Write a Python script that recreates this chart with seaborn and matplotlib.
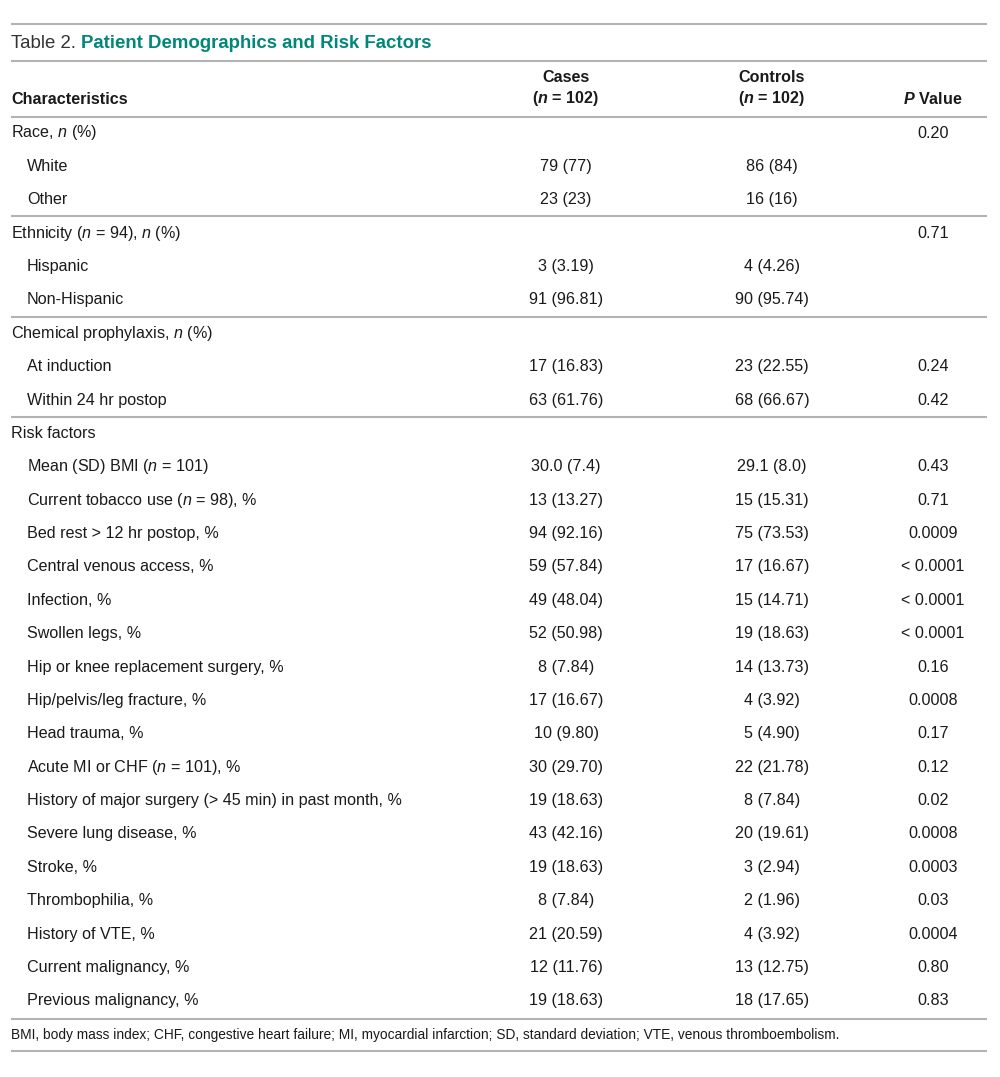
import numpy as np
import pandas as pd
import seaborn as sns
from matplotlib import pyplot as plt

# table content
labels = [
    'Race, $\\mathit{n}$ (%)', 'White', 'Other',
    'Ethnicity ($\\mathit{n}$ = 94), $\\mathit{n}$ (%)', 'Hispanic', 'Non-Hispanic',
    'Chemical prophylaxis, $\\mathit{n}$ (%)', 'At induction', 'Within 24 hr postop',
    'Risk factors',
    'Mean (SD) BMI ($\\mathit{n}$ = 101)',
    'Current tobacco use ($\\mathit{n}$ = 98), %',
    'Bed rest > 12 hr postop, %',
    'Central venous access, %',
    'Infection, %',
    'Swollen legs, %',
    'Hip or knee replacement surgery, %',
    'Hip/pelvis/leg fracture, %',
    'Head trauma, %',
    'Acute MI or CHF ($\\mathit{n}$ = 101), %',
    'History of major surgery (> 45 min) in past month, %',
    'Severe lung disease, %',
    'Stroke, %',
    'Thrombophilia, %',
    'History of VTE, %',
    'Current malignancy, %',
    'Previous malignancy, %',
]
indent = [0, 1, 1, 0, 1, 1, 0, 1, 1, 0] + [1] * 17
cases = ['', '79 (77)', '23 (23)', '', '3 (3.19)', '91 (96.81)', '', '17 (16.83)', '63 (61.76)', '',
         '30.0 (7.4)', '13 (13.27)', '94 (92.16)', '59 (57.84)', '49 (48.04)', '52 (50.98)',
         '8 (7.84)', '17 (16.67)', '10 (9.80)', '30 (29.70)', '19 (18.63)', '43 (42.16)',
         '19 (18.63)', '8 (7.84)', '21 (20.59)', '12 (11.76)', '19 (18.63)']
controls = ['', '86 (84)', '16 (16)', '', '4 (4.26)', '90 (95.74)', '', '23 (22.55)', '68 (66.67)', '',
            '29.1 (8.0)', '15 (15.31)', '75 (73.53)', '17 (16.67)', '15 (14.71)', '19 (18.63)',
            '14 (13.73)', '4 (3.92)', '5 (4.90)', '22 (21.78)', '8 (7.84)', '20 (19.61)',
            '3 (2.94)', '2 (1.96)', '4 (3.92)', '13 (12.75)', '18 (17.65)']
pvals = ['0.20', '', '', '0.71', '', '', '', '0.24', '0.42', '',
         '0.43', '0.71', '0.0009', '< 0.0001', '< 0.0001', '< 0.0001', '0.16', '0.0008',
         '0.17', '0.12', '0.02', '0.0008', '0.0003', '0.03', '0.0004', '0.80', '0.83']
group_breaks = [3, 6, 9]  # rule drawn above these rows

title_prefix = 'Table 2.'
title_main = 'Patient Demographics and Risk Factors'
footnote = ('BMI, body mass index; CHF, congestive heart failure; MI, myocardial infarction; '
            'SD, standard deviation; VTE, venous thromboembolism.')

df = pd.DataFrame({'label': labels, 'indent': indent, 'cases': cases,
                   'controls': controls, 'p': pvals})

sns.set_theme(style='white')
plt.rcParams['font.family'] = ['Liberation Sans', 'DejaVu Sans']
plt.rcParams['mathtext.fontset'] = 'custom'
plt.rcParams['mathtext.rm'] = 'Liberation Sans'
plt.rcParams['mathtext.it'] = 'Liberation Sans:italic'
plt.rcParams['mathtext.bf'] = 'Liberation Sans:bold'
plt.rcParams['mathtext.bfit'] = 'Liberation Sans:italic:bold'

fig = plt.figure(figsize=(10, 10.77), dpi=100)
ax = fig.add_axes([0, 0, 1, 1])
ax.set_xlim(0, 1000)
ax.set_ylim(1077, 0)
ax.axis('off')

text_color = '#1a1a1a'
rule_color = '#b3b3b3'
teal = '#00877a'
fs = 11.6

x0, x1 = 11, 987
x_ind = 27
x_cases, x_ctrl, x_p = 566, 772, 933

row_y0, pitch = 133, 33.38
df['y'] = row_y0 + pitch * np.arange(len(df))


def rule(y):
    ax.plot([x0, x1], [y, y], color=rule_color, lw=1.5, solid_capstyle='butt')


# title block
rule(24)
t = ax.text(x0, 43, title_prefix + ' ', fontsize=13.4, color='#333333', va='center', ha='left')
fig.canvas.draw()
bb = t.get_window_extent()
inv = ax.transData.inverted()
xt = inv.transform((bb.x1, bb.y0))[0]
ax.text(xt, 43, title_main, fontsize=13.4, color=teal, weight='bold', va='center', ha='left')
rule(61)

# header
ax.text(x0, 99, 'Characteristics', fontsize=fs, weight='bold', color=text_color, va='center')
for xc, name in [(x_cases, 'Cases'), (x_ctrl, 'Controls')]:
    ax.text(xc, 78, name, fontsize=fs, weight='bold', color=text_color, va='center', ha='center')
    ax.text(xc, 99, '($\\mathbfit{n}$ = 102)', fontsize=fs, weight='bold', color=text_color,
            va='center', ha='center')
ax.text(x_p, 99, '$\\mathbfit{P}$ Value', fontsize=fs, weight='bold', color=text_color,
        va='center', ha='center')
rule(117)

# body
for _, r in df.iterrows():
    xl = x_ind if r['indent'] else x0
    ax.text(xl, r['y'], r['label'], fontsize=fs, color=text_color, va='center', ha='left')
    ax.text(x_cases, r['y'], r['cases'], fontsize=fs, color=text_color, va='center', ha='center')
    ax.text(x_ctrl, r['y'], r['controls'], fontsize=fs, color=text_color, va='center', ha='center')
    ax.text(x_p, r['y'], r['p'], fontsize=fs, color=text_color, va='center', ha='center')

for g in group_breaks:
    rule(df['y'].iloc[g] - pitch / 2)

rule(1019)
ax.text(x0, 1035, footnote, fontsize=9.9, color=text_color, va='center', ha='left')
rule(1051)

fig.savefig('out.png', dpi=100, facecolor='white')
